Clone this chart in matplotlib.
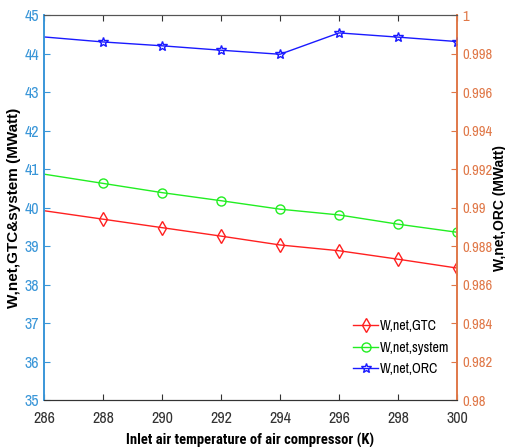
import numpy as np
import matplotlib.pyplot as plt

narrow = ["Liberation Sans Narrow", "Arial Narrow", "Archivo Narrow", "PT Sans Narrow",
          "Roboto Condensed", "Liberation Sans", "DejaVu Sans"]
narrow_bold = ["Roboto Condensed", "Archivo Narrow", "PT Sans Narrow", "Liberation Sans",
               "DejaVu Sans"]
plt.rcParams.update({
    "font.family": narrow,
    "font.size": 10,
})

# inlet air temperature (K)
temp = [286, 288, 290, 292, 294, 296, 298, 300]
# net power (MW)
w_gtc = [39.92, 39.70, 39.48, 39.26, 39.03, 38.88, 38.66, 38.43]
w_system = [40.87, 40.63, 40.39, 40.18, 39.96, 39.81, 39.57, 39.36]
w_orc = [0.99887, 0.99861, 0.99841, 0.99818, 0.99797, 0.99908, 0.99886, 0.99863]

left_col = "#3a96d8"
right_col = "#e07848"

fig = plt.figure(figsize=(5.05, 4.47), dpi=100)
ax = fig.add_axes([0.0871, 0.105, 0.818, 0.861])
ax2 = ax.twinx()

marks = slice(1, None)
l1, = ax.plot(temp, w_gtc, color="#ff2020", lw=1, marker="d", ms=7, mfc="none",
              markevery=marks, label="W,net,GTC")
l2, = ax.plot(temp, w_system, color="#22ee22", lw=1, marker="o", ms=6.5, mfc="none",
              markevery=marks, label="W,net,system")
l3, = ax2.plot(temp, w_orc, color="#1a1aff", lw=1, marker="*", ms=7, mfc="none",
               markevery=marks, label="W,net,ORC")

ax.set_xlim(286, 300)
ax.set_xticks(np.arange(286, 301, 2))
ax.set_ylim(35, 45)
ax.set_yticks(np.arange(35, 46, 1))
ax2.set_ylim(0.98, 1.0)
ax2.set_yticks(np.arange(0.98, 1.0001, 0.002))
ax2.set_yticklabels(["0.98", "0.982", "0.984", "0.986", "0.988", "0.99",
                     "0.992", "0.994", "0.996", "0.998", "1"])

ax.tick_params(axis="x", direction="in", top=True, colors="#333333",
               labelcolor="#333333", length=4, labelsize=11.5, pad=8)
ax.tick_params(axis="y", direction="in", colors=left_col, length=4, labelsize=11.5)
ax2.tick_params(axis="y", direction="in", colors=right_col, length=4, labelsize=10.5)

for a in (ax, ax2):
    a.spines["top"].set_color("#555555")
    a.spines["bottom"].set_color("#333333")
    a.spines["left"].set_color(left_col)
    a.spines["right"].set_color(right_col)
    a.spines["left"].set_linewidth(1.2)
    a.spines["right"].set_linewidth(1.2)

ax.set_xlabel("Inlet air temperature of air compressor (K)", fontsize=10.5,
              fontweight="bold", family=narrow_bold, labelpad=5)
ax.set_ylabel("W,net,GTC&system (MWatt)", fontsize=11, fontweight="bold",
              family=["Liberation Sans", "DejaVu Sans"])
ax2.set_ylabel("W,net,ORC (MWatt)", fontsize=10, fontweight="bold",
               family=["Liberation Sans", "DejaVu Sans"])
ax.yaxis.set_label_coords(-0.056, 0.5)
ax2.yaxis.set_label_coords(1.086, 0.5)

ax.legend(handles=[l1, l2, l3], loc="upper left", bbox_to_anchor=(0.735, 0.225),
          frameon=False, fontsize=10, handlelength=1.8, handletextpad=0.15,
          labelspacing=0.55, borderaxespad=0)

fig.savefig("out.png", dpi=100)
